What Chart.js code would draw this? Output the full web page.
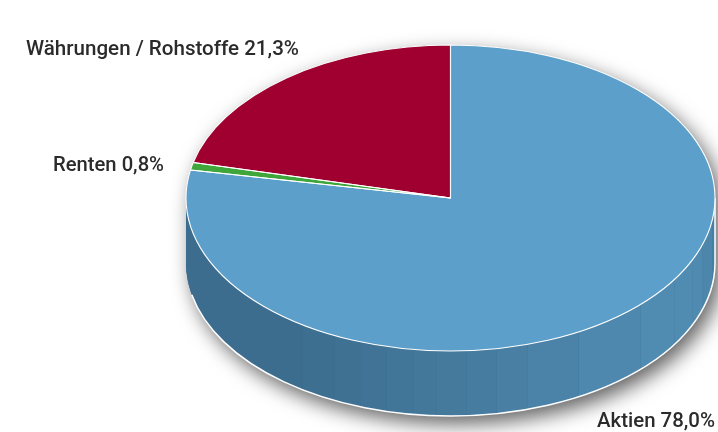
<!DOCTYPE html>
<html lang="de">
<head>
<meta charset="utf-8">
<title>Portfolio</title>
<style>
    html, body { margin: 0; padding: 0; background: #fff; }
    canvas { display: block; }
</style>
<script src="https://cdn.jsdelivr.net/npm/chart.js@4"></script>
</head>
<body>
<canvas id="allocationChart" width="718" height="432"></canvas>
<script>
// Anteile in Prozent
const categories = ['Aktien', 'Renten', 'Währungen / Rohstoffe'];
const shares = [78.0, 0.8, 21.3];
const sliceColors = ['#5b9fca', '#3fa63c', '#a0002f'];

// Label layout: x, baseline y, text width
const labelPlaces = [[597, 427, 118], [53, 171, 111], [26, 55, 273]];

// Side wall facets, in degrees clockwise from the right-hand edge
const wallFacets = [0, 8, 18, 24, 32, 44, 61, 73, 80, 86.5, 93, 98, 104, 110, 116, 124, 180];

const xStretch = 264.5 / 153;
const wallDepth = 65;

function tiltTransform(ctx, arc) {
    ctx.translate(arc.x, arc.y);
    ctx.scale(xStretch, 1);
    ctx.translate(-arc.x, -arc.y);
}

function wallColor(mid) {
    // darker towards the left, flat past the last facet, a little darker at the far right
    let t = Math.max(0, Math.min(1, (124 - mid) / 80));
    if (mid < 24) t -= (24 - mid) / 60;
    const r = Math.round(60 + t * 20);
    const g = Math.round(109 + t * 30);
    const b = Math.round(142 + t * 36);
    return `rgb(${r},${g},${b})`;
}

// Draws the cylinder below the pie and tilts the slices into an ellipse
const tiltedPie = {
    id: 'tiltedPie',
    beforeDatasetsDraw(chart) {
        const ctx = chart.ctx;
        const arc = chart.getDatasetMeta(0).data[0];
        const { x, y, outerRadius: r } = arc.getProps(['x', 'y', 'outerRadius'], true);
        const rad = Math.PI / 180;

        ctx.save();
        tiltTransform(ctx, arc);

        // silhouette with drop shadow
        ctx.save();
        ctx.shadowColor = 'rgba(0,0,0,0.62)';
        ctx.shadowBlur = 20;
        ctx.shadowOffsetX = 6;
        ctx.shadowOffsetY = 8;
        ctx.fillStyle = wallColor(180);
        ctx.beginPath();
        ctx.arc(x, y, r, Math.PI, 0);
        ctx.arc(x, y + wallDepth, r, 0, Math.PI);
        ctx.closePath();
        ctx.fill();
        ctx.restore();

        // facets
        for (let i = 0; i < wallFacets.length - 1; i++) {
            const a1 = wallFacets[i] * rad;
            const a2 = wallFacets[i + 1] * rad;
            ctx.fillStyle = wallColor((wallFacets[i] + wallFacets[i + 1]) / 2);
            ctx.beginPath();
            ctx.arc(x, y, r, a1, a2);
            ctx.arc(x, y + wallDepth, r, a2, a1, true);
            ctx.closePath();
            ctx.fill();
        }

        // white edge along the bottom, built tilted but stroked untilted
        ctx.beginPath();
        ctx.moveTo(x + r, y);
        ctx.arc(x, y + wallDepth, r, 0, 168 * rad);
        ctx.restore();
        ctx.strokeStyle = '#fff';
        ctx.lineWidth = 1.5;
        ctx.stroke();

        ctx.save();
        tiltTransform(ctx, arc);
    },
    afterDatasetsDraw(chart) {
        const ctx = chart.ctx;
        const meta = chart.getDatasetMeta(0);
        ctx.restore();

        // slice outlines
        meta.data.forEach(arc => {
            const p = arc.getProps(['x', 'y', 'startAngle', 'endAngle', 'outerRadius'], true);
            ctx.save();
            tiltTransform(ctx, arc);
            ctx.beginPath();
            ctx.moveTo(p.x, p.y);
            ctx.arc(p.x, p.y, p.outerRadius, p.startAngle, p.endAngle);
            ctx.closePath();
            ctx.restore();
            ctx.strokeStyle = '#fff';
            ctx.lineWidth = 1.1;
            ctx.lineJoin = 'bevel';
            ctx.stroke();
        });

        // labels
        ctx.save();
        ctx.font = '500 21px Roboto';
        ctx.fillStyle = '#2b2b2b';
        ctx.textBaseline = 'alphabetic';
        categories.forEach((name, i) => {
            const text = name + ' ' + shares[i].toFixed(1).replace('.', ',') + '%';
            const [lx, ly, lw] = labelPlaces[i];
            ctx.fillText(text, lx, ly, lw);
        });
        ctx.restore();
    }
};

const allocationChart = new Chart(document.getElementById('allocationChart'), {
    type: 'pie',
    data: {
        labels: categories,
        datasets: [{
            data: shares,
            backgroundColor: sliceColors,
            borderWidth: 0,
            clip: false
        }]
    },
    options: {
        responsive: false,
        animation: false,
        layout: { padding: { left: 297.5, right: 114.5, top: 45, bottom: 81 } },
        plugins: {
            legend: { display: false },
            tooltip: { enabled: false }
        }
    },
    plugins: [tiltedPie]
});
</script>
</body>
</html>
